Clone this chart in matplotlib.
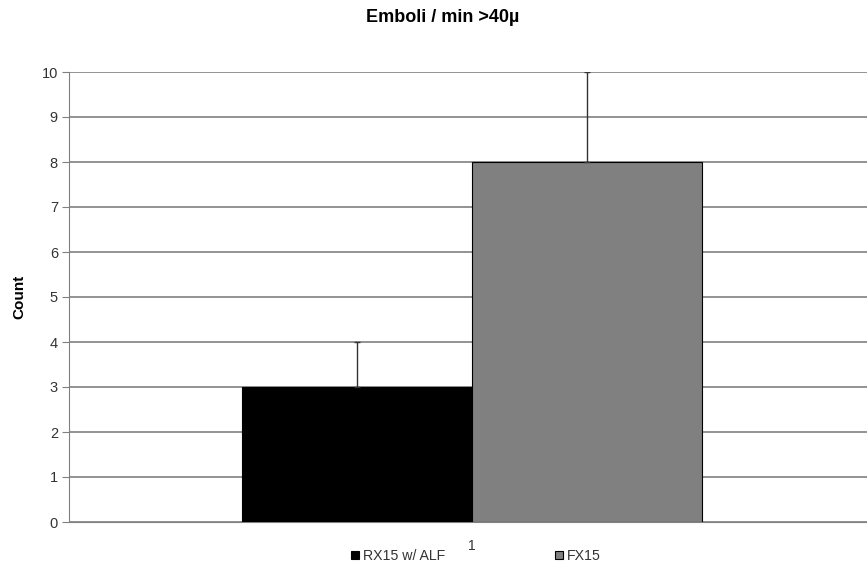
import matplotlib.pyplot as plt

plt.rcParams['font.family'] = ['Liberation Sans', 'DejaVu Sans']

# data
series = ['RX15 w/ ALF', 'FX15']
values = [3, 8]
err_up = [1, 2]
colors = ['#000000', '#808080']
category = '1'

fig = plt.figure(figsize=(8.67, 5.64), dpi=100)
ax = fig.add_axes([69 / 867, 42 / 564, 806 / 867, 450 / 564])

width = 0.2854
offsets = [-width / 2, width / 2]
handles = []
for i in range(len(series)):
    b = ax.bar(offsets[i], values[i], width=width, color=colors[i],
               edgecolor='#000000', linewidth=0.8, label=series[i], zorder=3)
    ax.errorbar(offsets[i], values[i], yerr=[[0], [err_up[i]]], fmt='none',
                ecolor='#333333', elinewidth=1, capsize=2.5, capthick=1, zorder=4)
    handles.append(b)

ax.set_xlim(-0.5, 0.5)
ax.set_ylim(0, 10)
ax.set_yticks(range(0, 11))
ax.set_xticks([0])
ax.set_xticklabels([category])
ax.yaxis.grid(True, color='#808080', linewidth=1.2, zorder=0)
ax.set_axisbelow(True)

for s in ['top', 'right']:
    ax.spines[s].set_visible(False)
ax.spines['left'].set_color('#808080')
ax.spines['bottom'].set_color('#808080')
ax.tick_params(axis='y', direction='out', length=5, color='#808080',
               labelsize=10.5, labelcolor='#333333', pad=3)
ax.tick_params(axis='x', length=0, labelsize=10, labelcolor='#333333', pad=12)

ax.set_ylabel('Count', fontsize=11, fontweight='bold', labelpad=11)
fig.text(443 / 867, 1 - 18 / 564, 'Emboli / min >40µ', fontsize=13,
         fontweight='bold', ha='center', va='center')

fig.legend(handles=handles, labels=series, loc='center',
           bbox_to_anchor=(476 / 867, 1 - 556 / 564), ncol=2, frameon=False,
           fontsize=10.2, handlelength=0.55, handleheight=0.55, handletextpad=0.25,
           columnspacing=7.8, labelcolor='#333333', borderpad=0)

fig.savefig('out.png', dpi=100)
